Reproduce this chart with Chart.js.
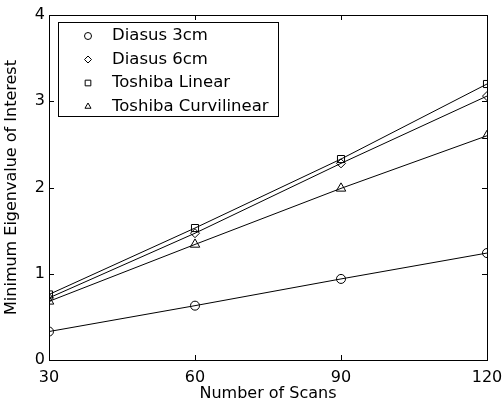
<!DOCTYPE html>
<html>
<head>
<meta charset="utf-8">
<script src="https://cdn.jsdelivr.net/npm/chart.js@4"></script>
<style>
  body { margin: 0; background: #fff; }
  canvas { display: block; }
</style>
</head>
<body>
<canvas id="chart" width="502" height="404"></canvas>
<script>
// data
const scans = [30, 60, 90, 120];
const diasus3cm = [0.33, 0.63, 0.94, 1.24];
const diasus6cm = [0.72, 1.47, 2.28, 3.06];
const toshibaLinear = [0.76, 1.53, 2.33, 3.20];
const toshibaCurvilinear = [0.68, 1.34, 1.99, 2.60];

const seriesNames = ["Diasus 3cm", "Diasus 6cm", "Toshiba Linear", "Toshiba Curvilinear"];
const xTicks = [30, 60, 90, 120];
const yTicks = [0, 1, 2, 3, 4];

const FONT = "'DejaVu Sans', sans-serif";

function toPoints(ys) {
  return ys.map((y, i) => ({ x: scans[i], y: y }));
}

function series(label, ys, style, radius) {
  return {
    label: label,
    data: toPoints(ys),
    borderColor: "#000",
    borderWidth: 1,
    backgroundColor: "rgba(0,0,0,0)",
    pointStyle: style,
    pointRadius: radius,
    pointBorderColor: "#000",
    pointBackgroundColor: "rgba(0,0,0,0)",
    pointBorderWidth: 1,
    tension: 0
  };
}

// frame round the plot + inward tick marks (matlab style)
const framePlugin = {
  id: "frame",
  afterDraw(chart) {
    const ctx = chart.ctx;
    const a = chart.chartArea;
    const xs = chart.scales.x;
    const ys = chart.scales.y;
    ctx.save();
    ctx.strokeStyle = "#000";
    ctx.lineWidth = 1;
    ctx.strokeRect(Math.round(a.left) + 0.5, Math.round(a.top) + 0.5,
      Math.round(a.right - a.left), Math.round(a.bottom - a.top));
    ctx.beginPath();
    xTicks.forEach(v => {
      const px = Math.round(xs.getPixelForValue(v)) + 0.5;
      ctx.moveTo(px, a.bottom); ctx.lineTo(px, a.bottom - 5);
      ctx.moveTo(px, a.top); ctx.lineTo(px, a.top + 5);
    });
    yTicks.forEach(v => {
      const py = Math.round(ys.getPixelForValue(v)) + 0.5;
      ctx.moveTo(a.left, py); ctx.lineTo(a.left + 5, py);
      ctx.moveTo(a.right, py); ctx.lineTo(a.right - 5, py);
    });
    ctx.stroke();
    ctx.restore();
  }
};

// boxed legend inside the plot, hollow markers only
const boxLegend = {
  id: "boxLegend",
  afterDraw(chart) {
    const ctx = chart.ctx;
    const a = chart.chartArea;
    const left = Math.round(a.left) + 9;
    const top = Math.round(a.top) + 7;
    const w = 220, h = 94;
    ctx.save();
    ctx.fillStyle = "#fff";
    ctx.fillRect(left, top, w, h);
    ctx.strokeStyle = "#000";
    ctx.lineWidth = 1;
    ctx.strokeRect(left + 0.5, top + 0.5, w, h);
    ctx.font = "16.5px " + FONT;
    ctx.textBaseline = "middle";
    chart.data.datasets.forEach((ds, i) => {
      const y = top + 14 + i * 23.5;
      ctx.fillStyle = "#fff";
      Chart.helpers.drawPoint(ctx, {
        pointStyle: ds.pointStyle,
        radius: ds.pointStyle === "rect" ? 4 : 3.5,
        rotation: 0,
        borderWidth: 1
      }, left + 30, y);
      ctx.fillStyle = "#000";
      ctx.fillText(ds.label, left + 54, y);
    });
    ctx.restore();
  }
};

new Chart(document.getElementById("chart"), {
  type: "line",
  data: {
    datasets: [
      series(seriesNames[0], diasus3cm, "circle", 4.5),
      series(seriesNames[1], diasus6cm, "rectRot", 4.5),
      series(seriesNames[2], toshibaLinear, "rect", 5),
      series(seriesNames[3], toshibaCurvilinear, "triangle", 5.5)
    ]
  },
  options: {
    responsive: false,
    animation: false,
    devicePixelRatio: 1,
    layout: { padding: { top: 15, right: 15, left: 0, bottom: 0 } },
    plugins: {
      legend: { display: false },
      tooltip: { enabled: false }
    },
    scales: {
      x: {
        type: "linear",
        min: 30,
        max: 120,
        afterFit: (s) => { s.height = 44; s.paddingLeft = 0; s.paddingRight = 0; },
        afterBuildTicks: (s) => { s.ticks = xTicks.map(v => ({ value: v })); },
        grid: { display: false, drawTicks: false },
        border: { display: false },
        ticks: {
          color: "#000",
          padding: 8,
          maxRotation: 0,
          autoSkip: false,
          font: { family: FONT, size: 16 }
        },
        title: {
          display: true,
          text: "Number of Scans",
          color: "#000",
          padding: { top: 0, bottom: 1 },
          font: { family: FONT, size: 16 }
        }
      },
      y: {
        type: "linear",
        min: 0,
        max: 4,
        afterFit: (s) => { s.width = 49; s.paddingTop = 0; s.paddingBottom = 0; },
        afterBuildTicks: (s) => { s.ticks = yTicks.map(v => ({ value: v })); },
        grid: { display: false, drawTicks: false },
        border: { display: false },
        ticks: {
          color: "#000",
          padding: 4,
          autoSkip: false,
          font: { family: FONT, size: 16 }
        },
        title: {
          display: true,
          text: "Minimum Eigenvalue of Interest",
          color: "#000",
          padding: { top: 2, bottom: 0 },
          font: { family: FONT, size: 16 }
        }
      }
    }
  },
  plugins: [framePlugin, boxLegend]
});
</script>
</body>
</html>
